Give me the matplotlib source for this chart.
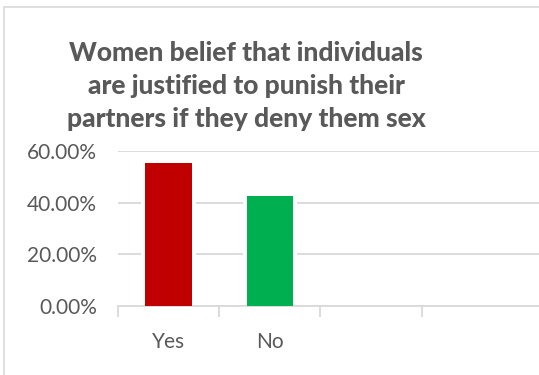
import matplotlib.pyplot as plt
from matplotlib.patches import Rectangle
from matplotlib.ticker import FuncFormatter

categories = ['Yes', 'No', '', '']
shares = [55.5, 42.7, 0, 0]
bar_colors = ['#C00000', '#00B050', 'none', 'none']
y_ticks = [0, 20, 40, 60]
title = ('Women belief that individuals\n'
         'are justified to punish their\n'
         'partners if they deny them sex')

text_color = '#595959'
grid_color = '#D9D9D9'

plt.rcParams['font.family'] = ['Lato', 'DejaVu Sans']

fig = plt.figure(figsize=(5.39, 3.75), dpi=100)
fig.patch.set_facecolor('white')

# chart frame
fig.patches.append(Rectangle((4 / 539, -0.1), 1.2, (375 - 7) / 375 + 0.1,
                             transform=fig.transFigure, fill=False,
                             edgecolor=grid_color, linewidth=1.2))

ax = fig.add_axes([118 / 539, 69.3 / 375, 421 / 539, 154.7 / 375])
x = list(range(len(categories)))
width = 0.46

# white halo round each bar breaks the gridlines like the original
ax.bar(x[:2], shares[:2], width=width + 8 / 101.3, color='white', zorder=2)
ax.bar(x, shares, width=width, color=bar_colors, zorder=3)

ax.set_xlim(-0.5, 3.66)
ax.set_ylim(0, 60)
ax.set_yticks(y_ticks)
ax.yaxis.set_major_formatter(FuncFormatter(lambda v, _: f'{v:.2f}%'))
ax.grid(axis='y', color=grid_color, linewidth=1.3, zorder=1)
ax.set_axisbelow(True)

ax.set_xticks(x[:2])
ax.set_xticklabels(categories[:2])
ax.set_xticks([-0.5, 0.5, 1.5, 2.5], minor=True)
ax.tick_params(axis='x', which='major', length=0, pad=19,
               labelsize=15, labelcolor=text_color)
ax.tick_params(axis='x', which='minor', length=8, width=1.3,
               color=grid_color)
ax.tick_params(axis='y', length=0, pad=15, labelsize=15,
               labelcolor=text_color)

for side in ['left', 'right', 'top']:
    ax.spines[side].set_visible(False)
ax.spines['bottom'].set_color(grid_color)
ax.spines['bottom'].set_linewidth(1.3)

fig.text(246 / 539, 1 - 86 / 375, title, ha='center', va='center',
         fontsize=19, fontweight=900, color=text_color,
         linespacing=1.45)

fig.savefig('out.png', dpi=100)
